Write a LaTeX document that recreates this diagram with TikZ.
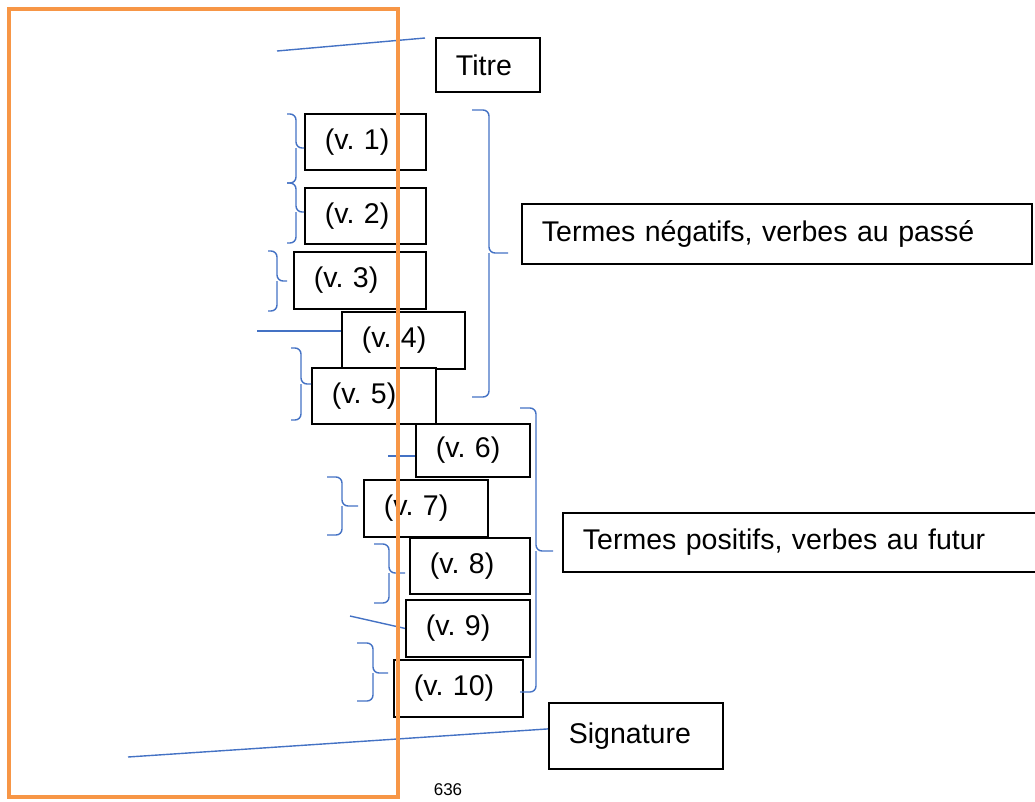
\documentclass[tikz,border=0pt]{standalone}
\usepackage{fontspec}
\setmainfont{Liberation Sans}
\usepackage{xcolor}
\usetikzlibrary{calc}
\definecolor{wblue}{RGB}{68,114,196}
\definecolor{worange}{RGB}{247,150,70}
\tikzset{%
  vbox/.style={draw=black, fill=white, line width=1.8pt, anchor=north west, inner xsep=20pt, inner ysep=0pt, align=left, font=\fontsize{28.5}{32}\selectfont},
  wbr/.style={wblue, line width=1.4pt, rounded corners=6pt},
  %wbig/.style={wbr, rounded corners=8pt}
}
% brace: x end, x spine, y top, y bottom, y tip, node, gap
\newcommand{\wbrace}[7]{%
  \draw[wbr, shorten >=#7] (#1,#3) -- (#2,#3) -- (#2,#5) -- (#6.west |- 0,#5);
  \draw[wbr] (#1,#4) -- (#2,#4) -- (#2,#5);
}

\begin{document}
\frenchspacing
\begin{tikzpicture}[x=1pt,y=-1pt]
\useasboundingbox (0,0) rectangle (1035,801);
\node[vbox, text width=64pt, minimum height=54pt] (titre) at (435,37) {Titre};
\node[vbox, text width=81pt, minimum height=56pt] (v1) at (304,113) {(v. 1)};
\node[vbox, text width=81pt, minimum height=56pt] (v2) at (304,187) {(v. 2)};
\node[vbox, text width=92pt, minimum height=57pt] (v3) at (293,251) {(v. 3)};
\node[vbox, text width=83pt, minimum height=57pt] (v4) at (341,311) {(v. 4)};
\node[vbox, text width=84pt, minimum height=56pt] (v5) at (311,367) {(v. 5)};
\node[vbox, text width=74pt, minimum height=53pt] (v6) at (415,423) {(v. 6)};
\node[vbox, text width=84pt, minimum height=57pt] (v7) at (363,479) {(v. 7)};
\node[vbox, text width=80pt, minimum height=56pt] (v8) at (409,537) {(v. 8)};
\node[vbox, text width=84pt, minimum height=57pt] (v9) at (405,599) {(v. 9)};
\node[vbox, text width=89pt, minimum height=57pt] (v10) at (393,659) {(v. 10)};
\node[vbox, text width=470pt, minimum height=60pt] (neg) at (521,203) {Termes négatifs, verbes au passé};
\node[vbox, text width=440pt, minimum height=59pt] (pos) at (562,512) {Termes positifs, verbes au futur};
\node[vbox, text width=134pt, minimum height=66pt] (sig) at (548,702) {Signature};
\node[font=\fontsize{17}{20}\selectfont] (page) at (448,790) {636};
% single lines
\coordinate (t0) at (277,51);
\coordinate (l4) at (257,331);
\coordinate (l6) at (388,456);
\coordinate (l9) at (350,616);
\coordinate (s0) at (128,757);
\draw[wbr] (t0) -- ([xshift=-10pt,yshift=-1pt]titre.north west);
\draw[wbr] (l4) -- (l4 -| v4.west);
\draw[wbr] (l6) -- (l6 -| v6.west);
\draw[wbr] (l9) -- (v9.west);
\draw[wbr] (s0) -- ([yshift=7pt]sig.west);
% braces
\wbrace{287}{296}{114}{183}{148}{v1}{0pt}
\wbrace{287}{296}{183}{243}{212}{v2}{0pt}
\wbrace{268}{277}{251}{311}{281}{v3}{6pt}
\wbrace{291}{301}{348}{420}{384}{v5}{0pt}
\wbrace{327}{342}{477}{535}{506}{v7}{5pt}
\wbrace{374}{389}{544}{603}{573}{v8}{4pt}
\wbrace{357}{373}{643}{701}{673}{v10}{5pt}
\wbrace{472}{489}{110}{397}{253}{neg}{13pt}
\wbrace{520}{536}{408}{692}{551}{pos}{9pt}
% frame
\draw[worange, line width=4.5pt] (9,9) rectangle (398,797);
\end{tikzpicture}
\end{document}
